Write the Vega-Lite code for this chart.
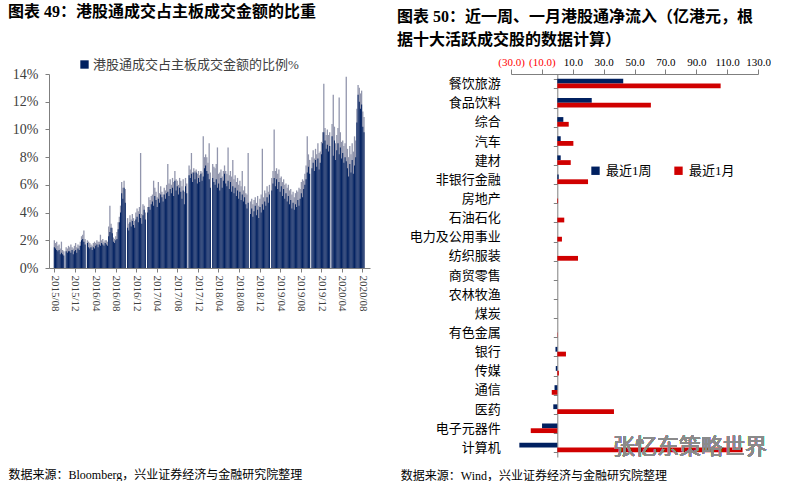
{
"$schema":"https://vega.github.io/schema/vega-lite/v6.json",
"padding":{"left":8,"top":4,"right":0,"bottom":0},
"bounds":"flush",
"spacing":141,
"resolve":{"scale":{"color":"independent"},"legend":{"color":"independent"}},
"config":{"view":{"stroke":null},"font":"Liberation Serif, Noto Sans CJK SC","axis":{"labelOverlap":false}},
"hconcat":[
{
"width":321,"height":194,
"title":{"text":"图表 49：港股通成交占主板成交金额的比重","anchor":"start","frame":"group","dx":-41,"offset":38,"fontSize":16,"fontWeight":"bold","color":"black"},
"data":{"values":[
{"d":"2015-08-03","v":1.5,"h":2.0},{"d":"2015-08-10","v":1.4,"h":1.8},{"d":"2015-08-17","v":1.3,"h":1.9},{"d":"2015-08-24","v":1.2,"h":1.6},{"d":"2015-08-31","v":1.3,"h":1.7},
{"d":"2015-09-07","v":1.0,"h":1.4},{"d":"2015-09-14","v":1.1,"h":1.9},{"d":"2015-09-21","v":1.0,"h":1.3},{"d":"2015-09-28","v":0.9,"h":1.2},
{"d":"2015-10-12","v":1.2,"h":1.5},{"d":"2015-10-19","v":1.1,"h":1.4},{"d":"2015-10-26","v":1.2,"h":1.6},
{"d":"2015-11-02","v":1.2,"h":1.5},{"d":"2015-11-09","v":1.1,"h":1.7},{"d":"2015-11-16","v":1.3,"h":1.5},{"d":"2015-11-23","v":1.0,"h":1.4},{"d":"2015-11-30","v":1.2,"h":1.6},
{"d":"2015-12-07","v":1.3,"h":1.8},{"d":"2015-12-14","v":1.1,"h":1.5},{"d":"2015-12-21","v":1.4,"h":1.7},{"d":"2015-12-28","v":1.3,"h":1.6},
{"d":"2016-01-04","v":1.6,"h":1.9},{"d":"2016-01-11","v":2.0,"h":2.3},{"d":"2016-01-18","v":2.1,"h":2.4},{"d":"2016-01-25","v":1.9,"h":2.7},
{"d":"2016-02-01","v":1.7,"h":2.1},{"d":"2016-02-15","v":1.8,"h":2.0},{"d":"2016-02-22","v":1.5,"h":1.9},{"d":"2016-02-29","v":1.4,"h":1.8},
{"d":"2016-03-07","v":1.5,"h":1.7},{"d":"2016-03-14","v":1.3,"h":1.6},{"d":"2016-03-21","v":1.5,"h":1.8},{"d":"2016-03-28","v":1.4,"h":1.9},
{"d":"2016-04-04","v":1.6,"h":1.8},{"d":"2016-04-11","v":1.7,"h":2.0},{"d":"2016-04-18","v":1.5,"h":1.9},{"d":"2016-04-25","v":1.7,"h":1.9},
{"d":"2016-05-02","v":1.6,"h":2.4},{"d":"2016-05-09","v":1.8,"h":2.0},{"d":"2016-05-16","v":1.7,"h":2.1},{"d":"2016-05-23","v":1.6,"h":1.9},{"d":"2016-05-30","v":1.8,"h":2.0},
{"d":"2016-06-06","v":1.7,"h":2.0},{"d":"2016-06-13","v":1.6,"h":1.9},{"d":"2016-06-20","v":2.3,"h":3.0},{"d":"2016-06-27","v":2.6,"h":4.5},
{"d":"2016-07-04","v":2.9,"h":3.2},{"d":"2016-07-11","v":2.5,"h":2.9},{"d":"2016-07-18","v":1.9,"h":2.2},{"d":"2016-07-25","v":1.8,"h":2.1},
{"d":"2016-08-01","v":2.0,"h":2.3},{"d":"2016-08-08","v":2.1,"h":2.6},{"d":"2016-08-15","v":2.8,"h":3.3},{"d":"2016-08-22","v":3.3,"h":3.7},{"d":"2016-08-29","v":4.0,"h":4.5},
{"d":"2016-09-05","v":5.4,"h":6.2},{"d":"2016-09-12","v":5.0,"h":5.8},{"d":"2016-09-19","v":5.8,"h":6.3},{"d":"2016-09-26","v":4.7,"h":5.7},
{"d":"2016-10-10","v":2.9,"h":3.6},{"d":"2016-10-17","v":2.7,"h":3.2},{"d":"2016-10-24","v":3.3,"h":3.8},{"d":"2016-10-31","v":3.0,"h":3.5},
{"d":"2016-11-07","v":3.4,"h":3.9},{"d":"2016-11-14","v":3.1,"h":3.6},{"d":"2016-11-21","v":2.9,"h":3.4},{"d":"2016-11-28","v":3.5,"h":4.0},
{"d":"2016-12-05","v":3.7,"h":4.3},{"d":"2016-12-12","v":3.3,"h":4.1},{"d":"2016-12-19","v":3.9,"h":4.4},{"d":"2016-12-26","v":3.6,"h":8.3},
{"d":"2017-01-02","v":3.2,"h":3.9},{"d":"2017-01-09","v":3.8,"h":4.6},{"d":"2017-01-16","v":4.2,"h":4.5},{"d":"2017-01-23","v":3.5,"h":4.0},
{"d":"2017-02-06","v":4.0,"h":4.4},{"d":"2017-02-13","v":4.4,"h":5.1},{"d":"2017-02-20","v":4.2,"h":4.9},{"d":"2017-02-27","v":4.6,"h":5.2},
{"d":"2017-03-06","v":4.8,"h":5.3},{"d":"2017-03-13","v":4.5,"h":6.3},{"d":"2017-03-20","v":5.2,"h":5.8},{"d":"2017-03-27","v":4.9,"h":5.5},
{"d":"2017-04-03","v":4.4,"h":5.1},{"d":"2017-04-10","v":5.0,"h":6.2},{"d":"2017-04-17","v":4.7,"h":5.4},{"d":"2017-04-24","v":5.3,"h":5.9},
{"d":"2017-05-01","v":5.1,"h":5.5},{"d":"2017-05-08","v":4.8,"h":5.3},{"d":"2017-05-15","v":5.3,"h":5.8},{"d":"2017-05-22","v":5.0,"h":5.6},{"d":"2017-05-29","v":5.4,"h":6.0},
{"d":"2017-06-05","v":5.5,"h":7.5},{"d":"2017-06-12","v":5.2,"h":6.1},{"d":"2017-06-19","v":5.7,"h":6.4},{"d":"2017-06-26","v":5.4,"h":6.0},
{"d":"2017-07-03","v":5.8,"h":6.5},{"d":"2017-07-10","v":5.2,"h":6.2},{"d":"2017-07-17","v":6.3,"h":7.0},{"d":"2017-07-24","v":5.6,"h":6.4},{"d":"2017-07-31","v":5.9,"h":6.3},
{"d":"2017-08-07","v":5.3,"h":6.0},{"d":"2017-08-14","v":5.8,"h":6.5},{"d":"2017-08-21","v":5.5,"h":6.3},{"d":"2017-08-28","v":5.0,"h":5.9},
{"d":"2017-09-04","v":5.6,"h":6.4},{"d":"2017-09-11","v":4.6,"h":5.5},{"d":"2017-09-18","v":5.9,"h":6.5},{"d":"2017-09-25","v":5.4,"h":6.1},
{"d":"2017-10-09","v":6.7,"h":7.4},{"d":"2017-10-16","v":6.5,"h":7.1},{"d":"2017-10-23","v":6.8,"h":8.3},{"d":"2017-10-30","v":6.2,"h":6.9},
{"d":"2017-11-06","v":6.9,"h":7.2},{"d":"2017-11-13","v":6.4,"h":7.0},{"d":"2017-11-20","v":6.9,"h":7.1},{"d":"2017-11-27","v":6.1,"h":6.8},
{"d":"2017-12-04","v":6.5,"h":7.0},{"d":"2017-12-11","v":6.2,"h":6.7},{"d":"2017-12-18","v":6.8,"h":7.0},{"d":"2017-12-25","v":6.3,"h":6.9},
{"d":"2018-01-01","v":6.6,"h":9.5},{"d":"2018-01-08","v":7.2,"h":8.0},{"d":"2018-01-15","v":7.4,"h":8.2},{"d":"2018-01-22","v":7.0,"h":8.0},{"d":"2018-01-29","v":6.8,"h":7.6},
{"d":"2018-02-05","v":6.4,"h":9.0},{"d":"2018-02-12","v":5.8,"h":6.9},{"d":"2018-02-26","v":6.5,"h":7.5},
{"d":"2018-03-05","v":6.2,"h":7.3},{"d":"2018-03-12","v":6.0,"h":7.2},{"d":"2018-03-19","v":6.4,"h":7.5},{"d":"2018-03-26","v":5.8,"h":8.7},
{"d":"2018-04-02","v":6.1,"h":6.8},{"d":"2018-04-09","v":5.6,"h":6.9},{"d":"2018-04-16","v":6.5,"h":7.1},{"d":"2018-04-23","v":5.8,"h":6.6},{"d":"2018-04-30","v":6.3,"h":7.0},
{"d":"2018-05-07","v":6.8,"h":7.4},{"d":"2018-05-14","v":6.1,"h":7.0},{"d":"2018-05-21","v":5.9,"h":6.8},{"d":"2018-05-28","v":6.3,"h":8.7},
{"d":"2018-06-04","v":5.7,"h":6.7},{"d":"2018-06-11","v":6.2,"h":7.0},{"d":"2018-06-18","v":5.5,"h":6.6},{"d":"2018-06-25","v":5.9,"h":7.8},
{"d":"2018-07-02","v":5.4,"h":6.4},{"d":"2018-07-09","v":5.8,"h":6.7},{"d":"2018-07-16","v":5.2,"h":6.2},{"d":"2018-07-23","v":5.6,"h":6.5},{"d":"2018-07-30","v":5.0,"h":6.0},
{"d":"2018-08-06","v":5.5,"h":6.3},{"d":"2018-08-13","v":4.9,"h":5.9},{"d":"2018-08-20","v":5.3,"h":7.0},{"d":"2018-08-27","v":4.8,"h":5.6},
{"d":"2018-09-03","v":5.1,"h":5.9},{"d":"2018-09-10","v":4.6,"h":5.4},{"d":"2018-09-17","v":4.3,"h":5.3},{"d":"2018-09-24","v":4.7,"h":8.3},
{"d":"2018-10-08","v":3.9,"h":4.8},{"d":"2018-10-15","v":4.3,"h":5.0},{"d":"2018-10-22","v":3.7,"h":4.6},{"d":"2018-10-29","v":4.1,"h":4.9},
{"d":"2018-11-05","v":4.5,"h":5.1},{"d":"2018-11-12","v":3.8,"h":4.7},{"d":"2018-11-19","v":4.2,"h":5.2},{"d":"2018-11-26","v":3.6,"h":4.5},
{"d":"2018-12-03","v":4.4,"h":5.0},{"d":"2018-12-10","v":4.0,"h":5.3},{"d":"2018-12-17","v":4.6,"h":8.6},{"d":"2018-12-24","v":4.2,"h":5.1},{"d":"2018-12-31","v":4.8,"h":5.6},
{"d":"2019-01-07","v":4.5,"h":5.4},{"d":"2019-01-14","v":5.1,"h":5.9},{"d":"2019-01-21","v":4.7,"h":5.5},{"d":"2019-01-28","v":5.3,"h":6.0},
{"d":"2019-02-11","v":5.6,"h":6.5},{"d":"2019-02-18","v":6.1,"h":7.0},{"d":"2019-02-25","v":6.5,"h":10.0},
{"d":"2019-03-04","v":5.9,"h":7.0},{"d":"2019-03-11","v":6.4,"h":7.2},{"d":"2019-03-18","v":5.7,"h":6.8},{"d":"2019-03-25","v":6.2,"h":7.1},
{"d":"2019-04-01","v":5.5,"h":6.5},{"d":"2019-04-08","v":5.9,"h":6.6},{"d":"2019-04-15","v":5.2,"h":6.2},{"d":"2019-04-22","v":5.7,"h":6.4},{"d":"2019-04-29","v":5.0,"h":6.0},
{"d":"2019-05-06","v":5.4,"h":6.1},{"d":"2019-05-13","v":4.8,"h":5.8},{"d":"2019-05-20","v":5.2,"h":6.0},{"d":"2019-05-27","v":4.6,"h":5.6},
{"d":"2019-06-03","v":4.9,"h":5.7},{"d":"2019-06-10","v":4.3,"h":5.3},{"d":"2019-06-17","v":4.7,"h":5.5},{"d":"2019-06-24","v":4.2,"h":5.1},
{"d":"2019-07-01","v":4.6,"h":5.4},{"d":"2019-07-08","v":4.4,"h":5.6},{"d":"2019-07-15","v":4.9,"h":5.5},{"d":"2019-07-22","v":4.5,"h":5.8},{"d":"2019-07-29","v":5.0,"h":5.7},
{"d":"2019-08-05","v":5.4,"h":6.2},{"d":"2019-08-12","v":5.1,"h":6.4},{"d":"2019-08-19","v":5.7,"h":6.3},{"d":"2019-08-26","v":6.0,"h":6.8},
{"d":"2019-09-02","v":6.4,"h":7.4},{"d":"2019-09-09","v":6.9,"h":9.5},{"d":"2019-09-16","v":7.3,"h":8.2},{"d":"2019-09-23","v":6.8,"h":7.8},
{"d":"2019-10-07","v":7.2,"h":8.0},{"d":"2019-10-14","v":7.6,"h":8.5},{"d":"2019-10-21","v":7.0,"h":7.9},{"d":"2019-10-28","v":7.8,"h":8.6},
{"d":"2019-11-04","v":7.3,"h":8.2},{"d":"2019-11-11","v":7.9,"h":9.0},{"d":"2019-11-18","v":7.1,"h":8.3},{"d":"2019-11-25","v":7.6,"h":8.4},
{"d":"2019-12-02","v":8.2,"h":9.1},{"d":"2019-12-09","v":9.0,"h":9.8},{"d":"2019-12-16","v":9.8,"h":13.3},{"d":"2019-12-23","v":9.2,"h":10.1},{"d":"2019-12-30","v":8.6,"h":9.6},
{"d":"2020-01-06","v":8.9,"h":10.0},{"d":"2020-01-13","v":8.4,"h":9.6},{"d":"2020-01-20","v":8.8,"h":9.8},
{"d":"2020-02-03","v":9.5,"h":10.4},{"d":"2020-02-10","v":8.1,"h":12.5},{"d":"2020-02-17","v":9.2,"h":10.2},{"d":"2020-02-24","v":7.8,"h":9.0},
{"d":"2020-03-02","v":8.5,"h":9.6},{"d":"2020-03-09","v":9.0,"h":10.1},{"d":"2020-03-16","v":8.2,"h":12.3},{"d":"2020-03-23","v":8.7,"h":9.8},{"d":"2020-03-30","v":7.9,"h":9.1},
{"d":"2020-04-06","v":8.3,"h":9.2},{"d":"2020-04-13","v":7.6,"h":8.8},{"d":"2020-04-20","v":8.0,"h":9.0},{"d":"2020-04-27","v":7.7,"h":13.8},
{"d":"2020-05-04","v":7.2,"h":8.6},{"d":"2020-05-11","v":6.6,"h":8.0},{"d":"2020-05-18","v":7.5,"h":8.8},{"d":"2020-05-25","v":6.9,"h":8.2},
{"d":"2020-06-01","v":7.8,"h":9.0},{"d":"2020-06-08","v":6.8,"h":8.4},{"d":"2020-06-15","v":7.4,"h":9.5},{"d":"2020-06-22","v":8.0,"h":9.2},{"d":"2020-06-29","v":10.5,"h":11.5},
{"d":"2020-07-06","v":12.5,"h":13.2},{"d":"2020-07-13","v":12.0,"h":13.0},{"d":"2020-07-20","v":11.5,"h":12.6},{"d":"2020-07-27","v":11.8,"h":12.8},
{"d":"2020-08-03","v":10.2,"h":11.3},{"d":"2020-08-10","v":9.8,"h":10.9}
]},
"encoding":{"x":{"field":"d","type":"temporal",
 "scale":{"domain":[{"year":2015,"month":8,"date":1},{"year":2020,"month":8,"date":16}]},
 "axis":{"values":[{"year":2015,"month":8,"date":1},{"year":2015,"month":12,"date":1},{"year":2016,"month":4,"date":1},{"year":2016,"month":8,"date":1},{"year":2016,"month":12,"date":1},{"year":2017,"month":4,"date":1},{"year":2017,"month":8,"date":1},{"year":2017,"month":12,"date":1},{"year":2018,"month":4,"date":1},{"year":2018,"month":8,"date":1},{"year":2018,"month":12,"date":1},{"year":2019,"month":4,"date":1},{"year":2019,"month":8,"date":1},{"year":2019,"month":12,"date":1},{"year":2020,"month":4,"date":1},{"year":2020,"month":8,"date":1}],
  "format":"%Y/%m","labelAngle":90,"labelFontSize":11,"labelColor":"#404040","tickSize":4,"tickColor":"#7f7f7f","domainColor":"#7f7f7f","grid":false,"labelPadding":3,"labelOverlap":false,"labelFlush":false,
  "title":"数据来源：Bloomberg，兴业证券经济与金融研究院整理","titleX":-41,"titleY":206,"titleAlign":"left","titleBaseline":"middle","titleFontSize":12,"titleFontWeight":"normal","titleColor":"black"}}},
"layer":[
 {"mark":{"type":"bar","width":1.3,"color":"#9296ad"},
  "encoding":{"y":{"field":"h","type":"quantitative","scale":{"domain":[0,14],"nice":false},
   "axis":{"values":[0,2,4,6,8,10,12,14],"labelExpr":"datum.value + '%'","labelFontSize":14,"labelColor":"#404040","tickSize":4,"tickColor":"#7f7f7f","domainColor":"#7f7f7f","grid":false,"labelPadding":7,"title":null}}}},
 {"mark":{"type":"bar","width":1.0},
  "encoding":{"y":{"field":"v","type":"quantitative",
   "axis":{"values":[0,2,4,6,8,10,12,14],"labelExpr":"datum.value + '%'","labelFontSize":14,"labelColor":"#404040","tickSize":4,"tickColor":"#7f7f7f","domainColor":"#7f7f7f","grid":false,"labelPadding":7,"title":null}},
   "color":{"datum":"港股通成交占主板成交金额的比例%","scale":{"range":["#002060"]},
    "legend":{"orient":"none","legendX":29,"legendY":-16,"title":null,"symbolType":"square","symbolSize":70,"labelFontSize":13,"labelColor":"#404040","labelLimit":400,"padding":0,"labelOffset":2}}}}
]
},
{
"width":247,"height":383,
"title":{"text":["图表 50：近一周、一月港股通净流入（亿港元，根","据十大活跃成交股的数据计算）"],"anchor":"start","frame":"group","dx":-114,"offset":8,"lineHeight":23,"fontSize":16,"fontWeight":"bold","color":"black"},
"data":{"values":[
{"sector":"餐饮旅游","series":"最近1周","value":42.7},{"sector":"餐饮旅游","series":"最近1月","value":105.8},
{"sector":"食品饮料","series":"最近1周","value":22.3},{"sector":"食品饮料","series":"最近1月","value":60.6},
{"sector":"综合","series":"最近1周","value":3.9},{"sector":"综合","series":"最近1月","value":7.4},
{"sector":"汽车","series":"最近1周","value":2.2},{"sector":"汽车","series":"最近1月","value":10.4},
{"sector":"建材","series":"最近1周","value":2.2},{"sector":"建材","series":"最近1月","value":8.7},
{"sector":"非银行金融","series":"最近1周","value":0.9},{"sector":"非银行金融","series":"最近1月","value":19.9},
{"sector":"房地产","series":"最近1周","value":0},{"sector":"房地产","series":"最近1月","value":0.5},
{"sector":"石油石化","series":"最近1周","value":0},{"sector":"石油石化","series":"最近1月","value":4.5},
{"sector":"电力及公用事业","series":"最近1周","value":0},{"sector":"电力及公用事业","series":"最近1月","value":3.0},
{"sector":"纺织服装","series":"最近1周","value":0},{"sector":"纺织服装","series":"最近1月","value":13.4},
{"sector":"商贸零售","series":"最近1周","value":0},{"sector":"商贸零售","series":"最近1月","value":0},
{"sector":"农林牧渔","series":"最近1周","value":0},{"sector":"农林牧渔","series":"最近1月","value":0},
{"sector":"煤炭","series":"最近1周","value":0},{"sector":"煤炭","series":"最近1月","value":0},
{"sector":"有色金属","series":"最近1周","value":0},{"sector":"有色金属","series":"最近1月","value":0.2},
{"sector":"银行","series":"最近1周","value":-1.2},{"sector":"银行","series":"最近1月","value":5.6},
{"sector":"传媒","series":"最近1周","value":-1.0},{"sector":"传媒","series":"最近1月","value":1.0},
{"sector":"通信","series":"最近1周","value":-1.8},{"sector":"通信","series":"最近1月","value":-3.6},
{"sector":"医药","series":"最近1周","value":-2.6},{"sector":"医药","series":"最近1月","value":36.7},
{"sector":"电子元器件","series":"最近1周","value":-9.9},{"sector":"电子元器件","series":"最近1月","value":-17.2},
{"sector":"计算机","series":"最近1周","value":-24.6},{"sector":"计算机","series":"最近1月","value":120}
]},
"layer":[
 {"mark":{"type":"bar"},
  "encoding":{
   "y":{"field":"sector","type":"nominal","sort":["餐饮旅游","食品饮料","综合","汽车","建材","非银行金融","房地产","石油石化","电力及公用事业","纺织服装","商贸零售","农林牧渔","煤炭","有色金属","银行","传媒","通信","医药","电子元器件","计算机"],
    "scale":{"paddingInner":0.5,"paddingOuter":0.25},
    "axis":{"offset":-46.3,"domainColor":"#7f7f7f","tickColor":"#7f7f7f","tickBand":"extent","tickSize":4,"labelPadding":53,"labelFontSize":13,"labelColor":"black",
     "title":"数据来源：Wind，兴业证券经济与金融研究院整理","titleAngle":0,"titleX":-157,"titleY":401,"titleAlign":"left","titleBaseline":"middle","titleFontSize":12,"titleFontWeight":"normal","titleColor":"black"}},
   "x":{"field":"value","type":"quantitative","stack":null,"scale":{"domain":[-30,130],"nice":false,"zero":false},
    "axis":{"orient":"top","values":[-30,-10,10,30,50,70,90,110,130],"labelOverlap":false,"labelFlush":false,"labelExpr":"datum.value < 0 ? '(' + format(-datum.value, '.1f') + ')' : format(datum.value, '.1f')",
     "labelColor":{"condition":{"test":"datum.value < 0","value":"#FF0000"},"value":"black"},"labelFontSize":11,"tickSize":5,"tickColor":"#7f7f7f","domainColor":"#7f7f7f","grid":false,"title":null,"labelPadding":2}},
   "yOffset":{"field":"series","type":"nominal","sort":["最近1周","最近1月"]},
   "color":{"field":"series","type":"nominal","scale":{"domain":["最近1周","最近1月"],"range":["#002060","#D00000"]},
    "legend":{"orient":"none","legendX":78,"legendY":90,"direction":"horizontal","title":null,"symbolType":"square","symbolSize":70,"labelFontSize":13,"labelColor":"black","columnPadding":20,"padding":0}}}},
 {"mark":{"type":"text","text":"张忆东策略世界","fontSize":22,"color":"#8a8a8a","opacity":0.6,"font":"Noto Sans CJK SC","align":"center","baseline":"middle"},
  "encoding":{"x":{"datum":86,"axis":{"orient":"top","values":[-30,-10,10,30,50,70,90,110,130],"labelOverlap":false,"labelFlush":false}},"y":{"datum":"计算机"}}}
]
}
]
}
